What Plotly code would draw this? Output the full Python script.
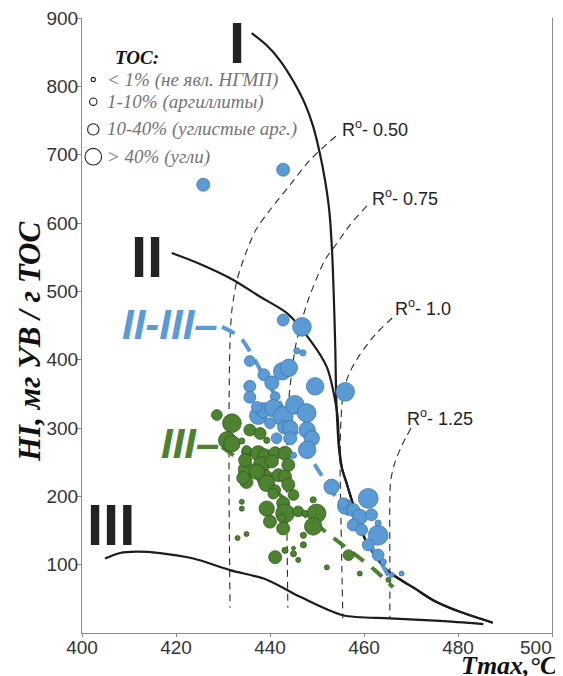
import math
import plotly.graph_objects as go

# ---------------- data ----------------
blue_tmax = [425.8, 442.8, 442.8, 446.8, 445.7, 447.0, 435.7, 438.7, 440.4, 442.6,
             444.0, 449.6, 456.0, 435.7, 435.7, 441.1, 437.5, 438.6, 440.7, 442.8,
             445.3, 447.8, 440.0, 441.4, 443.0, 444.3, 447.9, 448.9, 447.9, 444.3,
             445.0, 453.1, 460.9, 456.0, 457.7, 459.1, 461.6, 457.7, 459.5, 463.0,
             463.0, 460.9, 463.0, 464.1, 465.9, 468.0, 455.6, 437.2]
blue_hi = [656, 678, 458, 448, 413, 410, 398, 378, 366, 383,
           388, 361, 353, 361, 345, 346, 318, 326, 329, 317,
           334, 322, 307, 285, 301, 300, 297, 285, 268, 285,
           260, 214, 197, 185, 180, 170, 173, 158, 151, 143,
           161, 129, 114, 104, 85, 87, 190, 331]
blue_toc = [10.5, 10.5, 7.7, 48, 1.0, 1.0, 5.5, 7.7, 14, 35,
            35, 35, 48, 7.7, 7.7, 3.9, 35, 19.5, 35, 64,
            48, 48, 5.5, 5.5, 10.5, 19.5, 26, 19.5, 35, 10.5,
            1.0, 19.5, 64, 19.5, 10.5, 19.5, 7.7, 7.7, 7.7, 64,
            1.0, 7.7, 7.7, 1.0, 0.5, 0.5, 5.5, 5.5]

green_tmax = [428.7, 431.9, 435.7, 437.9, 430.9, 431.9, 434.0, 439.3, 435.1, 437.5,
              438.9, 441.1, 443.2, 435.0, 438.2, 440.4, 443.9, 434.7, 435.0, 438.9,
              441.8, 443.2, 437.2, 434.3, 439.3, 443.9, 441.1, 440.7, 445.0, 434.0,
              434.0, 439.3, 442.8, 443.2, 446.0, 449.2, 447.4, 449.9, 440.0, 442.5,
              442.8, 449.2, 447.1, 433.1, 435.0, 443.2, 445.0, 447.1, 441.1, 445.0,
              446.0, 452.1, 456.7, 459.1, 465.2, 435.0]
green_hi = [319, 307, 297, 292, 282, 277, 281, 282, 265, 263,
            260, 263, 263, 239, 246, 251, 246, 253, 221, 227,
            231, 229, 236, 227, 219, 217, 209, 204, 202, 192,
            182, 182, 190, 175, 178, 195, 175, 175, 163, 168,
            153, 156, 143, 139, 145, 121, 124, 129, 111, 116,
            107, 96, 114, 87, 78, 268]
green_toc = [5.5, 48, 7.7, 7.7, 35, 26, 1.0, 1.0, 5.5, 19.5,
             10.5, 10.5, 14, 26, 26, 10.5, 10.5, 10.5, 10.5, 26,
             10.5, 10.5, 19.5, 10.5, 26, 10.5, 5.5, 5.5, 5.5, 0.5,
             0.5, 19.5, 10.5, 48, 5.5, 1.0, 1.0, 48, 10.5, 2.6,
             10.5, 35, 1.0, 0.5, 0.5, 1.0, 0.15, 1.0, 10.5, 1.0,
             0.5, 0.5, 5.5, 0.5, 0.5, 2.6]

# kerogen type boundary curves
curve1_tmax = [436.1, 439.3, 442.1, 445.0, 447.4, 449.2, 450.6, 451.7, 452.6, 453.2,
               453.6, 453.9, 454.1, 454.4, 454.7, 455.3, 456.4, 458.5, 460.6, 464.9,
               471.3, 474.7, 480.4, 487.4]
curve1_hi = [878, 860, 838, 807, 775, 741, 702, 663, 619, 560,
             487, 414, 341, 297, 268, 241.5, 217, 170, 132, 92,
             63, 48, 31, 15]
curve2_tmax = [419.1, 425.1, 432.1, 437.9, 443.6, 448.5, 452.1, 454.3, 454.7, 455.3,
               456.4, 458.5, 460.6, 464.9, 471.3, 474.7, 480.4, 487.4]
curve2_hi = [556, 540, 517, 492, 468, 429, 389, 322, 275, 241.5,
             217, 170, 132, 92, 63, 48, 31, 15]
curve3_tmax = [404.9, 408.1, 411.6, 416.6, 423.7, 431.5, 439.3, 446.4, 455.5, 465.5,
               476.2, 485.4]
curve3_hi = [109, 117, 119, 117, 109, 92, 78, 53, 26, 21.5, 17.6, 13]

# vitrinite reflectance isolines
ro_labels = ["0.50", "0.75", "1.0", "1.25"]
ro050_tmax = [454.0, 448.5, 444.3, 440.0, 437.0, 434.7, 433.0, 431.9, 431.5, 431.3, 431.3, 431.5]
ro050_hi = [727, 692, 656, 619, 590, 553, 517, 473, 429, 341, 195, 37]
ro075_tmax = [460.6, 457.0, 454.3, 451.7, 449.8, 448.1, 446.8, 445.5, 444.7, 444.0, 443.6, 443.6, 443.8]
ro075_hi = [625, 597, 571, 546, 517, 487, 458, 422, 385, 341, 268, 165, 37]
ro100_tmax = [466.0, 462.3, 459.1, 457.0, 455.7, 455.1, 454.9, 455.1, 455.3, 455.5]
ro100_hi = [461, 436, 407, 382, 356, 312, 253, 165, 92, 22]
ro125_tmax = [470.0, 468.1, 466.6, 465.7, 465.5, 465.5, 465.5]
ro125_hi = [300, 275, 250, 224, 195, 107, 23]

# trend lines of the groups
trend23_tmax = [429.8, 433.6, 436.4, 438.9, 441.7, 444.3, 446.4, 450.2, 454.9, 461.3, 465.5]
trend23_hi = [448, 433, 404, 373, 341, 312, 282, 239, 190, 129, 80]
trend3_tmax = [429.8, 435.7, 442.1, 451.3, 457.7, 462.3, 466.2]
trend3_hi = [272, 242, 202, 151, 117, 92, 67]

legend_toc = [0.2, 1.7, 6.5, 28]
legend_text = ["< 1% (не явл. НГМП)", "1-10% (аргиллиты)",
               "10-40% (углистые арг.)", "> 40% (угли)"]

x_ticks = [400, 420, 440, 460, 480, 500]
y_ticks = [100, 200, 300, 400, 500, 600, 700, 800, 900]

BLUE = "#5b9bd5"
GREEN = "#4d8230"
BLACK = "#1c1c1c"


def toc_size(t):
    return 3.5 + 9 * math.log10(1 + t)


fig = go.Figure()

# black curves
for xs, ys in [(curve1_tmax, curve1_hi), (curve2_tmax, curve2_hi), (curve3_tmax, curve3_hi)]:
    fig.add_trace(go.Scatter(x=xs, y=ys, mode="lines",
                             line=dict(color=BLACK, width=2.2, shape="spline", smoothing=0.8),
                             hoverinfo="skip", showlegend=False))

# Ro isolines
for xs, ys in [(ro050_tmax, ro050_hi), (ro075_tmax, ro075_hi), (ro100_tmax, ro100_hi), (ro125_tmax, ro125_hi)]:
    fig.add_trace(go.Scatter(x=xs, y=ys, mode="lines",
                             line=dict(color="#2a2a2a", width=1.1, dash="7px,5px", shape="spline", smoothing=0.8),
                             hoverinfo="skip", showlegend=False))

# trend lines
fig.add_trace(go.Scatter(x=trend23_tmax, y=trend23_hi, mode="lines",
                         line=dict(color=BLUE, width=4, dash="14px,10px", shape="spline", smoothing=0.8),
                         showlegend=False))
fig.add_trace(go.Scatter(x=trend3_tmax, y=trend3_hi, mode="lines",
                         line=dict(color=GREEN, width=4, dash="14px,10px", shape="spline", smoothing=0.8),
                         showlegend=False))

# samples
fig.add_trace(go.Scatter(x=green_tmax, y=green_hi, mode="markers",
                         marker=dict(color=GREEN, opacity=1, size=[toc_size(t) for t in green_toc],
                                     line=dict(color="#2d5519", width=0.7)),
                         showlegend=False, cliponaxis=False))
fig.add_trace(go.Scatter(x=blue_tmax, y=blue_hi, mode="markers",
                         marker=dict(color=BLUE, opacity=1, size=[toc_size(t) for t in blue_toc],
                                     line=dict(color="#3a6f9e", width=0.7)),
                         showlegend=False, cliponaxis=False))

# legend (drawn inside the plot)
leg_x = 402.4
leg_y = [810, 777.5, 737, 697]
fig.add_trace(go.Scatter(x=[leg_x] * 4, y=leg_y, mode="markers",
                         marker=dict(color="white", opacity=1, size=[toc_size(t) for t in legend_toc],
                                     line=dict(color="#222", width=1.1)),
                         showlegend=False, cliponaxis=False))
annotations = []
annotations.append(dict(x=406.5, y=841.5, xref="x", yref="y", text="<b><i>TOC:</i></b>", showarrow=False,
                        xanchor="left", yanchor="middle",
                        font=dict(family="Liberation Serif", size=19, color="#111")))
for yy, txt in zip(leg_y, legend_text):
    annotations.append(dict(x=404.8, y=yy, xref="x", yref="y", text="<i>" + txt + "</i>", showarrow=False,
                            xanchor="left", yanchor="middle",
                            font=dict(family="Liberation Serif", size=19, color="#747474")))

# Ro labels
ro_pos = [(454.9, 739), (461.3, 637), (466.2, 477), (468.7, 315)]
for (xx, yy), lab in zip(ro_pos, ro_labels):
    annotations.append(dict(x=xx, y=yy, xref="x", yref="y", text="R<sup>o</sup>- " + lab, showarrow=False,
                            xanchor="left", yanchor="middle",
                            font=dict(family="Liberation Sans", size=18, color="#222")))

# kerogen type numerals
for (xx, yy), txt in zip([(433.0, 864), (413.9, 551), (406.1, 159.5)], ["I", "II", "III"]):
    annotations.append(dict(x=xx, y=yy, xref="x", yref="y", text="<b>" + txt + "</b>", showarrow=False,
                            xanchor="center", yanchor="middle",
                            font=dict(family="Liberation Sans", size=58, color="#222")))

annotations.append(dict(x=418.8, y=452, xref="x", yref="y", text="<b><i>II-III–</i></b>", showarrow=False,
                        xanchor="center", yanchor="middle",
                        font=dict(family="Liberation Sans", size=42, color=BLUE)))
annotations.append(dict(x=422.9, y=277, xref="x", yref="y", text="<b><i>III–</i></b>", showarrow=False,
                        xanchor="center", yanchor="middle",
                        font=dict(family="Liberation Sans", size=42, color=GREEN)))

# axis titles and the last x tick label (placed by window pixels)
annotations.append(dict(x=29, y=342, xref="paper", yref="paper", text="<b><i>HI, мг УВ / г TOC</i></b>",
                        showarrow=False, textangle=-90, xanchor="center", yanchor="middle",
                        font=dict(family="Liberation Serif", size=31, color="#111")))
annotations.append(dict(x=509, y=665, xref="paper", yref="paper", text="<b><i>Tmax,°C</i></b>",
                        showarrow=False, xanchor="center", yanchor="middle",
                        font=dict(family="Liberation Serif", size=26, color="#111")))
annotations.append(dict(x=554, y=647, xref="paper", yref="paper", text=str(x_ticks[-1]),
                        showarrow=False, xanchor="right", yanchor="middle",
                        font=dict(family="Liberation Sans", size=19, color="#333")))

# The page body has an 8px margin, so the figure is made 8px smaller and offset.
OFF = 8
W, H = 563 - OFF, 676 - OFF
L, R, T, B = 82 - OFF, 11, 18 - OFF, 43
pw, ph = W - L - R, H - T - B
for a in annotations:
    if a["xref"] == "paper":
        a["x"] = (a["x"] - OFF - L) / pw
        a["y"] = 1 - (a["y"] - OFF - T) / ph

fig.update_layout(
    width=W, height=H, template="none",
    margin=dict(l=L, r=R, t=T, b=B, pad=0),
    paper_bgcolor="white", plot_bgcolor="white",
    annotations=annotations,
    showlegend=False,
    xaxis=dict(range=[400, 500], tickvals=x_ticks,
               ticktext=[str(v) for v in x_ticks[:-1]] + [""],
               ticks="outside", ticklen=3, tickcolor="#888",
               showline=True, linecolor="#8a8a8a", linewidth=1, showgrid=False, zeroline=False,
               ticklabelstandoff=-6,
               tickfont=dict(family="Liberation Sans", size=19, color="#333"), automargin=False),
    yaxis=dict(range=[0, 900], tickvals=y_ticks, ticks="outside", ticklen=4, tickcolor="#888",
               showline=True, linecolor="#8a8a8a", linewidth=1, mirror=True, showgrid=False, zeroline=False,
               ticklabeloverflow="allow", ticklabelstandoff=-5,
               tickfont=dict(family="Liberation Sans", size=19, color="#333"), automargin=False),
)

fig.write_html("out.html")
